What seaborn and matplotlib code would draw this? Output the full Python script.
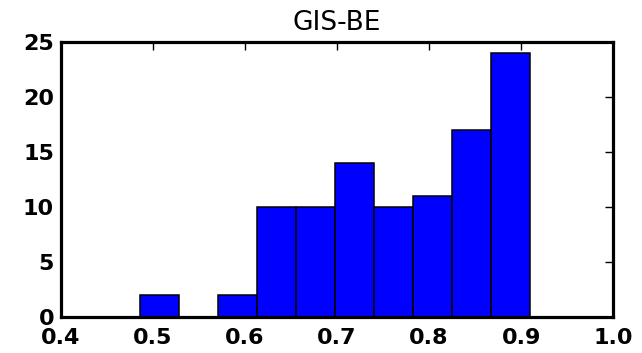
import numpy as np
import pandas as pd
import matplotlib
matplotlib.use("Agg")
import matplotlib.pyplot as plt
import seaborn as sns

# Data
bin_edges = [0.4859, 0.5283, 0.5707, 0.6131, 0.6555, 0.6979, 0.7403, 0.7827, 0.8251, 0.8675, 0.9099]
counts = [2, 0, 2, 10, 10, 14, 10, 11, 17, 24]
title = "GIS-BE"
x_ticks = [0.4, 0.5, 0.6, 0.7, 0.8, 0.9, 1.0]
y_ticks = [0, 5, 10, 15, 20, 25]

centers = [(a + b) / 2 for a, b in zip(bin_edges[:-1], bin_edges[1:])]
df = pd.DataFrame({"value": centers, "count": counts})

sns.set_style("white")
plt.rcParams['font.family'] = ['DejaVu Sans']
plt.rcParams['text.color'] = 'black'
plt.rcParams['xtick.color'] = 'black'
plt.rcParams['ytick.color'] = 'black'
plt.rcParams['axes.labelcolor'] = 'black'

fig = plt.figure(figsize=(6.42, 3.53), dpi=100)
ax = fig.add_axes([0.095, 0.102, 0.86, 0.779])

sns.histplot(data=df, x="value", weights="count", bins=bin_edges, ax=ax,
             color="#0000ff", alpha=1.0, edgecolor="black", linewidth=1.1)

ax.set_xlim(0.4, 1.0)
ax.set_ylim(0, 25)
ax.set_xticks(x_ticks)
ax.set_xticklabels([f"{t:.1f}" for t in x_ticks])
ax.set_yticks(y_ticks)
ax.set_yticklabels([str(t) for t in y_ticks])
ax.set_xlabel("")
ax.set_ylabel("")
ax.set_title(title, fontsize=19, pad=9, color="black")

for s in ax.spines.values():
    s.set_visible(True)
    s.set_linewidth(2.3)
    s.set_color("black")

ax.tick_params(axis="both", which="major", direction="in", length=6, width=1,
               top=True, right=True, labelsize=16, color="black", labelcolor="black")
ax.tick_params(axis="x", pad=8)
ax.tick_params(axis="y", pad=5)
for lab in ax.get_xticklabels() + ax.get_yticklabels():
    lab.set_fontweight("bold")

fig.savefig("out.png", dpi=100, facecolor="white")
